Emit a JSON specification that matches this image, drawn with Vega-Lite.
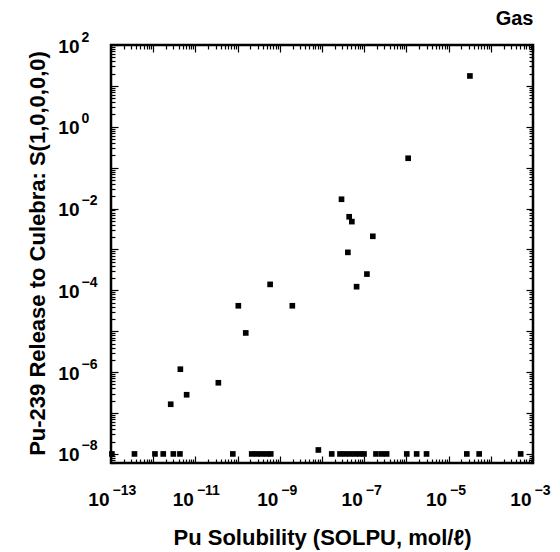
{
  "$schema": "https://vega.github.io/schema/vega-lite/v6.json",
  "autosize": {"type": "none"},
  "padding": {"left": 111, "top": 45, "right": 27, "bottom": 89},
  "width": 422,
  "height": 418,
  "background": "white",
  "config": {
    "view": {"stroke": "black", "strokeWidth": 2.5},
    "axis": {"labelFont": "Liberation Sans", "titleFont": "Liberation Sans", "labelColor": "black", "titleColor": "black", "grid": false, "labelOverlap": false, "labelFlush": false, "labelBound": false}
  },
  "data": {"values": [
    {"solubility": 3.2e-5, "release": 17.5},
    {"solubility": 1.1e-6, "release": 0.17},
    {"solubility": 2.9e-8, "release": 0.0169},
    {"solubility": 4.4e-8, "release": 0.0063},
    {"solubility": 5.1e-8, "release": 0.0048},
    {"solubility": 1.6e-7, "release": 0.0021},
    {"solubility": 4.1e-8, "release": 0.00085},
    {"solubility": 1.16e-7, "release": 0.00025},
    {"solubility": 5.9e-10, "release": 0.00014},
    {"solubility": 6.6e-8, "release": 0.000123},
    {"solubility": 1.04e-10, "release": 4.2e-5},
    {"solubility": 1.98e-9, "release": 4.2e-5},
    {"solubility": 1.56e-10, "release": 9.1e-6},
    {"solubility": 4.4e-12, "release": 1.18e-6},
    {"solubility": 3.5e-11, "release": 5.5e-7},
    {"solubility": 6.2e-12, "release": 2.8e-7},
    {"solubility": 2.6e-12, "release": 1.64e-7},
    {"solubility": 1.05e-13, "release": 1e-8},
    {"solubility": 3.6e-13, "release": 1e-8},
    {"solubility": 1.1e-12, "release": 1e-8},
    {"solubility": 1.73e-12, "release": 1e-8},
    {"solubility": 3.0e-12, "release": 1e-8},
    {"solubility": 4.3e-12, "release": 1e-8},
    {"solubility": 7.7e-11, "release": 1e-8},
    {"solubility": 2.16e-10, "release": 1e-8},
    {"solubility": 2.84e-10, "release": 1e-8},
    {"solubility": 3.7e-10, "release": 1e-8},
    {"solubility": 4.9e-10, "release": 1e-8},
    {"solubility": 6.1e-10, "release": 1e-8},
    {"solubility": 8.2e-9, "release": 1.25e-8},
    {"solubility": 1.7e-8, "release": 1e-8},
    {"solubility": 2.67e-8, "release": 1e-8},
    {"solubility": 3.5e-8, "release": 1e-8},
    {"solubility": 4.6e-8, "release": 1e-8},
    {"solubility": 6.05e-8, "release": 1e-8},
    {"solubility": 7.9e-8, "release": 1e-8},
    {"solubility": 9.9e-8, "release": 1e-8},
    {"solubility": 1.9e-7, "release": 1e-8},
    {"solubility": 2.6e-7, "release": 1e-8},
    {"solubility": 3.4e-7, "release": 1e-8},
    {"solubility": 1.02e-6, "release": 1e-8},
    {"solubility": 1.75e-6, "release": 1e-8},
    {"solubility": 3.0e-6, "release": 1e-8},
    {"solubility": 2.7e-5, "release": 1e-8},
    {"solubility": 5.3e-5, "release": 1e-8},
    {"solubility": 5.1e-4, "release": 1e-8}
  ]},
  "resolve": {"axis": {"x": "independent", "y": "independent"}},
  "layer": [
    {
      "mark": {"type": "point", "shape": "square", "filled": true, "size": 32, "color": "black", "opacity": 1},
      "encoding": {
        "x": {"field": "solubility", "type": "quantitative",
          "scale": {"type": "log", "domain": [1e-13, 1e-3], "nice": false},
          "axis": {"orient": "bottom", "values": [1e-13, 1e-11, 1e-9, 1e-7, 1e-5, 1e-3], "labelExpr": "'10'", "ticks": false, "domain": false,
            "labelAlign": "right", "labelBaseline": "alphabetic", "labelPadding": 42, "labelOffset": -2, "labelFontSize": 19, "labelFontWeight": "bold",
            "title": "Pu Solubility (SOLPU, mol/ℓ)", "titleFontSize": 22, "titleFontWeight": "bold", "titleBaseline": "alphabetic", "titleAnchor": "middle", "titleY": 81, "titleX": 211}},
        "y": {"field": "release", "type": "quantitative",
          "scale": {"type": "log", "domain": [6e-9, 100], "nice": false},
          "axis": {"orient": "left", "values": [1e-8, 1e-6, 1e-4, 1e-2, 1, 100], "labelExpr": "'10'", "ticks": false, "domain": false,
            "labelAlign": "right", "labelBaseline": "alphabetic", "labelPadding": 32, "labelOffset": 7, "labelFontSize": 19, "labelFontWeight": "bold",
            "title": "Pu-239 Release to Culebra: S(1,0,0,0,0)", "titleFontSize": 22, "titleFontWeight": "bold", "titleBaseline": "alphabetic", "titleAnchor": "middle", "titleX": -67, "titleY": 208, "titleAngle": -90}}
      }
    },
    {
      "mark": {"type": "point", "opacity": 0},
      "encoding": {
        "x": {"field": "solubility", "type": "quantitative",
          "axis": {"orient": "bottom", "values": [1e-13, 1e-11, 1e-9, 1e-7, 1e-5, 1e-3], "labelExpr": "'−' + format(-round(log(datum.value)/LN10), 'd')", "ticks": false, "domain": false,
            "labelAlign": "left", "labelBaseline": "alphabetic", "labelPadding": 31, "labelOffset": 1, "labelFontSize": 14, "labelFontWeight": "bold", "title": null}},
        "y": {"field": "release", "type": "quantitative",
          "axis": {"orient": "left", "values": [1e-8, 1e-6, 1e-4, 1e-2, 1, 100], "labelExpr": "round(log(datum.value)/LN10) < 0 ? '−' + format(-round(log(datum.value)/LN10), 'd') : format(round(log(datum.value)/LN10), 'd')", "ticks": false, "domain": false,
            "labelAlign": "left", "labelBaseline": "alphabetic", "labelPadding": 30, "labelOffset": -4, "labelFontSize": 14, "labelFontWeight": "bold", "title": null}}
      }
    },
    {
      "mark": {"type": "point", "opacity": 0},
      "encoding": {
        "x": {"field": "solubility", "type": "quantitative",
          "axis": {"orient": "bottom", "labels": false, "domain": false, "title": null, "ticks": true, "tickColor": "black", "tickWidth": 1.2,
            "tickSize": {"condition": {"test": "abs(log(datum.value)/LN10 - round(log(datum.value)/LN10)) < 0.001", "value": -7}, "value": -4},
            "values": [1e-13,2e-13,3e-13,4e-13,5e-13,6e-13,7e-13,8e-13,9e-13,1e-12,2e-12,3e-12,4e-12,5e-12,6e-12,7e-12,8e-12,9e-12,1e-11,2e-11,3e-11,4e-11,5e-11,6e-11,7e-11,8e-11,9e-11,1e-10,2e-10,3e-10,4e-10,5e-10,6e-10,7e-10,8e-10,9e-10,1e-9,2e-9,3e-9,4e-9,5e-9,6e-9,7e-9,8e-9,9e-9,1e-8,2e-8,3e-8,4e-8,5e-8,6e-8,7e-8,8e-8,9e-8,1e-7,2e-7,3e-7,4e-7,5e-7,6e-7,7e-7,8e-7,9e-7,1e-6,2e-6,3e-6,4e-6,5e-6,6e-6,7e-6,8e-6,9e-6,1e-5,2e-5,3e-5,4e-5,5e-5,6e-5,7e-5,8e-5,9e-5,1e-4,2e-4,3e-4,4e-4,5e-4,6e-4,7e-4,8e-4,9e-4,1e-3]}},
        "y": {"field": "release", "type": "quantitative",
          "axis": {"orient": "left", "labels": false, "domain": false, "title": null, "ticks": true, "tickColor": "black", "tickWidth": 1.2,
            "tickSize": {"condition": {"test": "abs(log(datum.value)/LN10 - round(log(datum.value)/LN10)) < 0.001", "value": -7}, "value": -4},
            "values": [6e-9,7e-9,8e-9,9e-9,1e-8,2e-8,3e-8,4e-8,5e-8,6e-8,7e-8,8e-8,9e-8,1e-7,2e-7,3e-7,4e-7,5e-7,6e-7,7e-7,8e-7,9e-7,1e-6,2e-6,3e-6,4e-6,5e-6,6e-6,7e-6,8e-6,9e-6,1e-5,2e-5,3e-5,4e-5,5e-5,6e-5,7e-5,8e-5,9e-5,1e-4,2e-4,3e-4,4e-4,5e-4,6e-4,7e-4,8e-4,9e-4,1e-3,2e-3,3e-3,4e-3,5e-3,6e-3,7e-3,8e-3,9e-3,0.01,0.02,0.03,0.04,0.05,0.06,0.07,0.08,0.09,0.1,0.2,0.3,0.4,0.5,0.6,0.7,0.8,0.9,1,2,3,4,5,6,7,8,9,10,20,30,40,50,60,70,80,90,100]}}
      }
    },
    {
      "mark": {"type": "point", "opacity": 0},
      "encoding": {
        "x": {"field": "solubility", "type": "quantitative",
          "axis": {"orient": "top", "labels": false, "domain": false, "ticks": true, "tickColor": "black", "tickWidth": 1.2,
            "title": "Gas", "titleFontSize": 20, "titleFontWeight": "bold", "titleAlign": "right", "titleAnchor": "end", "titleBaseline": "alphabetic", "titleX": 422, "titleY": -21, "titleAngle": 0,
            "tickSize": {"condition": {"test": "abs(log(datum.value)/LN10 - round(log(datum.value)/LN10)) < 0.001", "value": -7}, "value": -4},
            "values": [1e-13,2e-13,3e-13,4e-13,5e-13,6e-13,7e-13,8e-13,9e-13,1e-12,2e-12,3e-12,4e-12,5e-12,6e-12,7e-12,8e-12,9e-12,1e-11,2e-11,3e-11,4e-11,5e-11,6e-11,7e-11,8e-11,9e-11,1e-10,2e-10,3e-10,4e-10,5e-10,6e-10,7e-10,8e-10,9e-10,1e-9,2e-9,3e-9,4e-9,5e-9,6e-9,7e-9,8e-9,9e-9,1e-8,2e-8,3e-8,4e-8,5e-8,6e-8,7e-8,8e-8,9e-8,1e-7,2e-7,3e-7,4e-7,5e-7,6e-7,7e-7,8e-7,9e-7,1e-6,2e-6,3e-6,4e-6,5e-6,6e-6,7e-6,8e-6,9e-6,1e-5,2e-5,3e-5,4e-5,5e-5,6e-5,7e-5,8e-5,9e-5,1e-4,2e-4,3e-4,4e-4,5e-4,6e-4,7e-4,8e-4,9e-4,1e-3]}},
        "y": {"field": "release", "type": "quantitative",
          "axis": {"orient": "right", "labels": false, "domain": false, "title": null, "ticks": true, "tickColor": "black", "tickWidth": 1.2,
            "tickSize": {"condition": {"test": "abs(log(datum.value)/LN10 - round(log(datum.value)/LN10)) < 0.001", "value": -7}, "value": -4},
            "values": [6e-9,7e-9,8e-9,9e-9,1e-8,2e-8,3e-8,4e-8,5e-8,6e-8,7e-8,8e-8,9e-8,1e-7,2e-7,3e-7,4e-7,5e-7,6e-7,7e-7,8e-7,9e-7,1e-6,2e-6,3e-6,4e-6,5e-6,6e-6,7e-6,8e-6,9e-6,1e-5,2e-5,3e-5,4e-5,5e-5,6e-5,7e-5,8e-5,9e-5,1e-4,2e-4,3e-4,4e-4,5e-4,6e-4,7e-4,8e-4,9e-4,1e-3,2e-3,3e-3,4e-3,5e-3,6e-3,7e-3,8e-3,9e-3,0.01,0.02,0.03,0.04,0.05,0.06,0.07,0.08,0.09,0.1,0.2,0.3,0.4,0.5,0.6,0.7,0.8,0.9,1,2,3,4,5,6,7,8,9,10,20,30,40,50,60,70,80,90,100]}}
      }
    }
  ]
}
